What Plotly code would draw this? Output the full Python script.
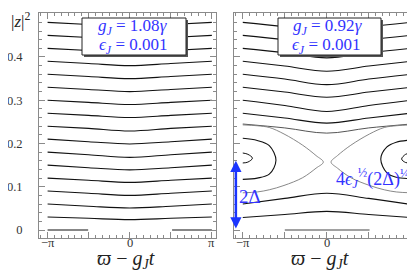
import math
import plotly.graph_objects as go

PI = math.pi

# ---------------- data ----------------
# sample phases for the open-orbit curves
X5 = [-PI, -PI / 2, 0.0, PI / 2, PI]

# left panel (g_J = 1.08 gamma): |z|^2 at X5
LEFT_CURVES = [
    [0.480, 0.475, 0.469, 0.475, 0.480],
    [0.450, 0.445, 0.439, 0.445, 0.450],
    [0.420, 0.415, 0.409, 0.415, 0.420],
    [0.390, 0.385, 0.380, 0.385, 0.390],
    [0.360, 0.355, 0.350, 0.355, 0.360],
    [0.330, 0.325, 0.320, 0.325, 0.330],
    [0.300, 0.295, 0.290, 0.295, 0.300],
    [0.270, 0.265, 0.260, 0.265, 0.270],
    [0.240, 0.235, 0.229, 0.235, 0.240],
    [0.210, 0.204, 0.199, 0.204, 0.210],
    [0.180, 0.174, 0.168, 0.174, 0.180],
    [0.150, 0.144, 0.139, 0.144, 0.150],
    [0.120, 0.115, 0.110, 0.115, 0.120],
    [0.090, 0.085, 0.080, 0.085, 0.090],
    [0.060, 0.055, 0.051, 0.055, 0.060],
    [0.030, 0.027, 0.024, 0.027, 0.030],
]
LEFT_FLOOR_X = [[-PI, -1.59], [1.62, PI]]
LEFT_FLOOR_Y = [[0.0, 0.0], [0.0, 0.0]]

# right panel (g_J = 0.92 gamma): open orbits above the separatrix
RIGHT_UPPER = [
    [0.480, 0.470, 0.458, 0.470, 0.480],
    [0.450, 0.440, 0.428, 0.440, 0.450],
    [0.420, 0.410, 0.398, 0.410, 0.420],
    [0.390, 0.379, 0.367, 0.379, 0.390],
    [0.360, 0.349, 0.336, 0.349, 0.360],
    [0.330, 0.319, 0.307, 0.319, 0.330],
    [0.300, 0.288, 0.274, 0.288, 0.300],
    [0.270, 0.259, 0.247, 0.259, 0.270],
]
RIGHT_GRAY = [0.245, 0.236, 0.224, 0.236, 0.245]
# open orbits below the separatrix
RIGHT_LOWER = [
    [0.060, 0.073, 0.085, 0.073, 0.059],
    [0.029, 0.036, 0.043, 0.036, 0.029],
]
RIGHT_FLOOR_X = [-1.57, 1.60]
RIGHT_FLOOR_Y = [0.0, 0.0]

# separatrix branches (x, |z|^2)
SEP_L_X = [-PI, -2.6, -2.15, -1.6, -0.9, -0.4, -0.13, -0.4, -0.9, -1.6, -2.15, -2.6, -PI]
SEP_L_Y = [0.243, 0.241, 0.237, 0.222, 0.196, 0.172, 0.157, 0.143, 0.121, 0.103, 0.093, 0.088, 0.086]
SEP_R_X = [PI, 2.6, 2.15, 1.6, 0.9, 0.4, 0.16, 0.4, 0.9, 1.6, 2.15, 2.6, PI]
SEP_R_Y = [0.243, 0.241, 0.237, 0.222, 0.196, 0.172, 0.157, 0.143, 0.121, 0.103, 0.093, 0.088, 0.086]

# islands around phase +-pi
ISL_OUT_L_X = [-PI, -2.6, -2.15, -1.90, -2.15, -2.6, -PI]
ISL_OUT_L_Y = [0.212, 0.207, 0.195, 0.161, 0.129, 0.120, 0.117]
ISL_OUT_R_X = [PI, 2.6, 2.25, 2.02, 2.25, 2.6, PI]
ISL_OUT_R_Y = [0.208, 0.203, 0.192, 0.164, 0.132, 0.122, 0.119]
ISL_IN_L_X = [-PI, -2.95, -2.78, -2.95, -PI]
ISL_IN_L_Y = [0.178, 0.175, 0.166, 0.157, 0.155]
ISL_IN_R_X = [PI, 2.95, 2.80, 2.95, PI]
ISL_IN_R_Y = [0.178, 0.175, 0.164, 0.156, 0.155]

X_TICKVALS = [-PI, -PI / 2, 0.0, PI / 2, PI]
X_LABEL_VALS = [-PI, 0.0, PI]
X_LABEL_TEXT = ["\u2212\u03c0", "0", "\u03c0"]
Y_TICKVALS = [0.0, 0.1, 0.2, 0.3, 0.4, 0.5]
Y_TICKTEXT = ["0", "0.1", "0.2", "0.3", "0.4", " "]

# ---------------- figure ----------------
W, H = 415, 272
BLACK = "#111111"
GRAY = "#7a7a7a"
BLUE_T = "#3333ff"
BLUE_A = "#1a35ff"
SERIF = "Liberation Serif"

fig = go.Figure()


def add_line(xs, ys, axis, color=BLACK, width=1.1, spline=True):
    fig.add_trace(go.Scatter(
        x=xs, y=ys, mode="lines", xaxis="x" + axis, yaxis="y" + axis,
        line=dict(color=color, width=width, shape="spline" if spline else "linear",
                  smoothing=1.0),
        hoverinfo="skip", showlegend=False))


for ys in LEFT_CURVES:
    add_line(X5, ys, "")
for xs, ys in zip(LEFT_FLOOR_X, LEFT_FLOOR_Y):
    add_line(xs, ys, "", spline=False)

for ys in RIGHT_UPPER:
    add_line(X5, ys, "2")
add_line(X5, RIGHT_GRAY, "2", color="#555555", width=1.0)
for ys in RIGHT_LOWER:
    add_line(X5, ys, "2")
add_line(RIGHT_FLOOR_X, RIGHT_FLOOR_Y, "2", color="#444444", spline=False)
add_line(SEP_L_X, SEP_L_Y, "2", color=GRAY, width=0.9)
add_line(SEP_R_X, SEP_R_Y, "2", color=GRAY, width=0.9)
add_line(ISL_OUT_L_X, ISL_OUT_L_Y, "2")
add_line(ISL_OUT_R_X, ISL_OUT_R_Y, "2")
add_line(ISL_IN_L_X, ISL_IN_L_Y, "2", width=1.0)
add_line(ISL_IN_R_X, ISL_IN_R_Y, "2", width=1.0)

XR = [-3.47, 3.30]
YR = [-0.0185, 0.5017]
ydom = [1 - 230 / H, 1 - 5 / H]

TICKFONT = dict(family=SERIF, size=12.5, color="#333333")
axis_common = dict(
    showline=True, linecolor="#8a8a8a", linewidth=1, mirror="allticks",
    ticks="inside", ticklen=6, tickcolor="#8a8a8a", tickwidth=1,
    showgrid=False, zeroline=False, tickfont=TICKFONT,
)

xminor = dict(ticks="inside", ticklen=3, tickcolor="#8a8a8a", tick0=-PI, dtick=PI / 12, showgrid=False)
yminor = dict(ticks="inside", ticklen=3, tickcolor="#8a8a8a", tick0=0, dtick=0.02, showgrid=False)

fig.update_layout(
    width=W, height=H, margin=dict(l=0, r=0, t=0, b=0),
    paper_bgcolor="white", plot_bgcolor="white", showlegend=False,
    xaxis=dict(domain=[31 / W, 208 / W], range=XR, anchor="y",
               tickmode="array", tickvals=X_TICKVALS, showticklabels=False,
               minor=xminor, **axis_common),
    yaxis=dict(domain=ydom, range=YR, anchor="x",
               tickmode="array", tickvals=Y_TICKVALS, ticktext=Y_TICKTEXT,
               minor=yminor, ticklabelstandoff=13, **axis_common),
    xaxis2=dict(domain=[226 / W, 407 / W], range=XR, anchor="y2",
                tickmode="array", tickvals=X_TICKVALS, showticklabels=False,
                minor=xminor, **axis_common),
    yaxis2=dict(domain=ydom, range=YR, anchor="x2",
                tickmode="array", tickvals=Y_TICKVALS, showticklabels=False,
                minor=yminor, **axis_common),
)


def px(x):
    return x / W


def py(y):
    return 1 - y / H


# x tick labels placed on each axis
for xr in ["x", "x2"]:
    for v, t in zip(X_LABEL_VALS, X_LABEL_TEXT):
        fig.add_annotation(xref=xr, yref="paper", x=v, y=py(235), text=t,
                           xanchor="center", yanchor="middle", showarrow=False,
                           font=TICKFONT)

# parameter boxes with shadow
for (x0, x1) in [(74, 178), (270, 373)]:
    fig.add_shape(type="rect", xref="paper", yref="paper",
                  x0=px(x0 + 2), x1=px(x1 + 2), y0=py(49), y1=py(12),
                  line=dict(width=0), fillcolor="#555555", layer="above")
    fig.add_shape(type="rect", xref="paper", yref="paper",
                  x0=px(x0), x1=px(x1), y0=py(47), y1=py(10),
                  line=dict(color="#222222", width=1), fillcolor="white", layer="above")

boxfont = dict(family=SERIF, size=17, color=BLUE_T)
ann = []
ann.append(dict(x=px(125), y=py(19), text="<i>g<sub>J</sub></i> = 1.08<i>\u03b3</i>"))
ann.append(dict(x=px(125), y=py(37.5), text="<i>\u03f5<sub>J</sub></i> = 0.001"))
ann.append(dict(x=px(320), y=py(19), text="<i>g<sub>J</sub></i> = 0.92<i>\u03b3</i>"))
ann.append(dict(x=px(318), y=py(37.5), text="<i>\u03f5<sub>J</sub></i> = 0.001"))
for a in ann:
    fig.add_annotation(xref="paper", yref="paper", showarrow=False,
                       xanchor="center", yanchor="middle", font=boxfont, **a)

# axis labels
fig.add_annotation(xref="paper", yref="paper", x=px(1), y=py(12), xanchor="left",
                   yanchor="middle", showarrow=False,
                   text="|<i>z</i>|<sup>2</sup>",
                   font=dict(family=SERIF, size=17, color="#222222"))
for cx in [118, 312]:
    fig.add_annotation(xref="paper", yref="paper", x=px(cx), y=py(251),
                       xanchor="center", yanchor="middle", showarrow=False,
                       text="<i>\u03d6</i> \u2212 <i>g<sub>J</sub>t</i>",
                       font=dict(family=SERIF, size=20, color="#222222"))

# 2 Delta arrow and the island-width arrow
fig.add_annotation(xref="x2", yref="y2", axref="x2", ayref="y2",
                   x=-3.40, y=0.160, ax=-3.40, ay=0.0, text="",
                   showarrow=True, arrowhead=2, startarrowhead=2, arrowside="end+start",
                   arrowsize=0.9, startarrowsize=0.9, arrowwidth=2.5, arrowcolor=BLUE_A)
fig.add_annotation(xref="x2", yref="y2", axref="x2", ayref="y2",
                   x=3.21, y=0.166, ax=3.21, ay=0.080, text="",
                   showarrow=True, arrowhead=2, startarrowhead=2, arrowside="end+start",
                   arrowsize=0.9, startarrowsize=0.9, arrowwidth=2.5, arrowcolor=BLUE_A)
fig.add_annotation(xref="paper", yref="paper", x=px(229), y=py(188),
                   xanchor="left", yanchor="middle", showarrow=False,
                   text="2\u0394", font=dict(family=SERIF, size=19, color=BLUE_T))
fig.add_annotation(xref="paper", yref="paper", x=px(403), y=py(170),
                   xanchor="right", yanchor="middle", showarrow=False,
                   text="4<i>\u03f5</i><sub><i>J</i></sub><sup>\u00bd</sup>(2\u0394)<sup>\u00bc</sup>",
                   font=dict(family=SERIF, size=18, color=BLUE_T))

fig.write_html("out.html")
